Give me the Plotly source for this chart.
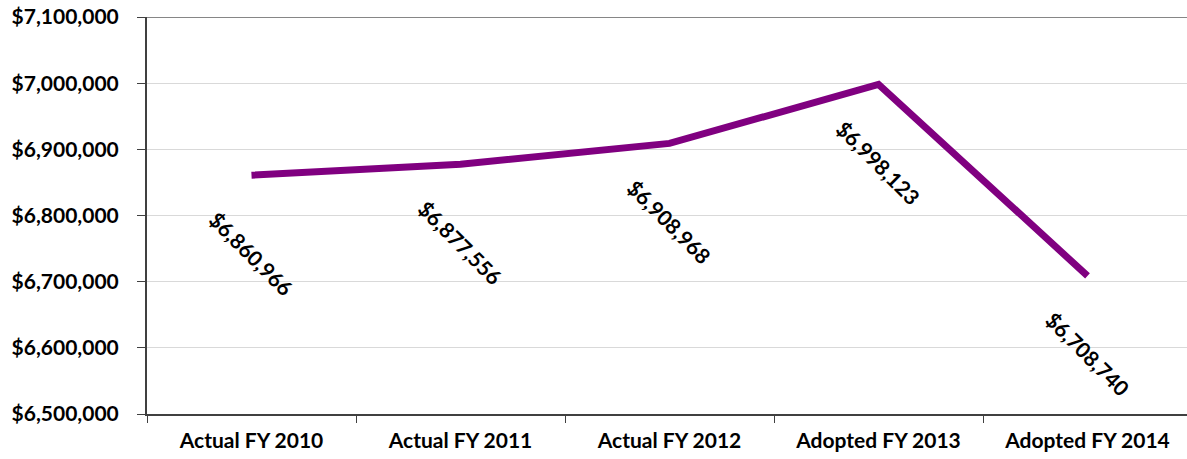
import plotly.graph_objects as go

# Budget totals by fiscal year
categories = ["Actual FY 2010", "Actual FY 2011", "Actual FY 2012",
              "Adopted FY 2013", "Adopted FY 2014"]
amounts = [6860966, 6877556, 6908968, 6998123, 6708740]
y_ticks = [6500000, 6600000, 6700000, 6800000, 6900000, 7000000, 7100000]
y_tick_labels = ["${:,}".format(v) for v in y_ticks]

FONT = "Lato"
LINE_COLOR = "#800080"
TEXT_SIZE = 21

fig = go.Figure()
fig.add_trace(go.Scatter(
    x=categories, y=amounts, mode="lines",
    line=dict(color=LINE_COLOR, width=7),
    hoverinfo="x+y", showlegend=False,
))

# Rotated value labels beneath each point
for cat, val in zip(categories, amounts):
    fig.add_annotation(
        x=cat, y=val, xref="x", yref="y",
        text="${:,}".format(val), showarrow=False,
        textangle=45, yshift=-78,
        font=dict(family=FONT, size=TEXT_SIZE, color="#000000", weight="bold"),
    )

# Darker border along the top of the plot area
fig.add_shape(type="line", xref="paper", yref="y", x0=0, x1=1,
              y0=7100000, y1=7100000, line=dict(color="#868686", width=2))

fig.update_layout(
    width=1187, height=459,
    margin=dict(l=147, r=0, t=17, b=45),
    paper_bgcolor="white", plot_bgcolor="white",
    font=dict(family=FONT, size=TEXT_SIZE, color="#000000", weight="bold"),
)
fig.update_xaxes(
    type="category", range=[-0.5, 4.476],
    showline=True, linecolor="#404040", linewidth=2,
    ticks="outside", tickson="boundaries", ticklen=7, tickcolor="#404040",
    showgrid=False, ticklabelstandoff=7,
    tickfont=dict(family=FONT, size=TEXT_SIZE, color="#000000", weight="bold"),
)
fig.update_yaxes(
    range=[6500000, 7100000], tickvals=y_ticks, ticktext=y_tick_labels,
    showline=True, linecolor="#404040", linewidth=2,
    ticks="outside", ticklen=8, tickcolor="#404040",
    showgrid=True, gridcolor="#d9d9d9", gridwidth=1,
    zeroline=False, ticklabelstandoff=14,
    tickfont=dict(family=FONT, size=TEXT_SIZE, color="#000000", weight="bold"),
)

fig.write_html("out.html")
